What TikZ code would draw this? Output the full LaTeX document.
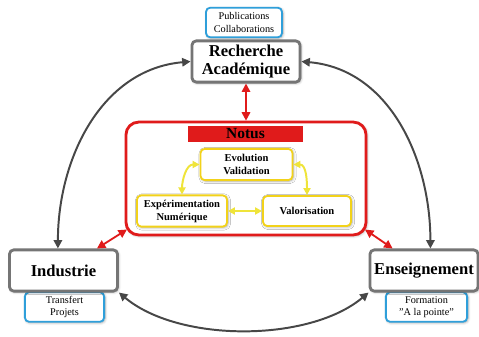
\documentclass[tikz,border=0pt]{standalone}
\usepackage{fontspec}
\setmainfont{Liberation Serif}
\usetikzlibrary{arrows.meta,shadows.blur}

\definecolor{polegray}{HTML}{757575}
\definecolor{arcgray}{HTML}{474747}
\definecolor{pubblue}{HTML}{2F9FDA}
\definecolor{notusred}{HTML}{E01B1B}
\definecolor{etapeyellow}{HTML}{F2D21A}
\definecolor{arrowyellow}{HTML}{EFE43A}

\begin{document}
\begin{tikzpicture}[x=0.025cm, y=0.025cm,
    >={Triangle[length=6pt,width=6pt]},
    ombre/.style={blur shadow={shadow xshift=0.7pt, shadow yshift=-0.7pt, shadow blur steps=6, shadow opacity=35}},
    pole/.style={draw=polegray, line width=2pt, rounded corners=3pt, fill=white, ombre,
        minimum width=2.7cm, minimum height=1.03cm, align=center, inner sep=2pt,
        font=\fontsize{11.8}{12.8}\selectfont\bfseries},
    pub/.style={draw=pubblue, line width=1.3pt, rounded corners=3pt, fill=white, ombre,
        minimum width=1.98cm, minimum height=0.74cm, align=center, inner sep=1pt,
        font=\fontsize{7.3}{8.8}\selectfont},
    notusbox/.style={draw=notusred, line width=2pt, rounded corners=9pt, fill=white, ombre,
        minimum width=6cm, minimum height=2.82cm},
    banner/.style={fill=notusred, minimum width=2.875cm, minimum height=0.4cm, inner sep=0pt,
        font=\fontsize{11}{12}\selectfont\bfseries},
    etape/.style={draw=etapeyellow, line width=1.3pt, rounded corners=3pt, fill=white, ombre,
        minimum width=2.3cm, minimum height=0.78cm, align=center, inner sep=1pt,
        font=\fontsize{7.5}{9.2}\selectfont\bfseries},
    garrow/.style={<->, draw=arcgray, line width=1.4pt},
    rarrow/.style={<->, draw=notusred, line width=1.3pt},
    yarrow/.style={<->, draw=arrowyellow, line width=1.4pt, >={Triangle[length=5pt,width=5pt]}}]

    \useasboundingbox (0,0) rectangle (479,-336);

    % === haut: Recherche ===
    \node[pub]  (pubs) at (244,-22.5) [minimum width=1.9cm] {Publications\\Collaborations};
    \node[pole] (rech) at (246,-61.5) {Recherche\\Académique};

    % === centre: Notus ===
    \node[notusbox] (notus) at (246,-178.5) {};
    \node[banner]   (titre) at (245.5,-134) {Notus};
    \node[etape] (evo)  at (246.5,-164.5) {Evolution\\Validation};
    \node[etape] (exp)  at (182,-211) [minimum width=2.25cm] {Expérimentation\\Numérique};
    \node[etape] (valo) at (307,-211) [minimum width=2.2cm, minimum height=0.75cm] {Valorisation};

    % === bas: Industrie, Enseignement ===
    \node[pub]  (transf) at (64.5,-307) {Transfert\\Projets};
    \node[pole] (ind)    at (63.5,-270.5) {Industrie};
    \node[pub]  (form)   at (426.5,-307) [minimum width=2.03cm] {Formation\\"A la pointe"};
    \node[pole] (ens)    at (424,-270.5) {Enseignement};

    % === liens Notus ===
    \draw[yarrow] (evo.west) to[out=180,in=90] (exp.north);
    \draw[yarrow] (evo.east) to[out=0,in=90] (valo.north);
    \draw[yarrow] (exp.east) -- (valo.west);

    % rouge
    \draw[rarrow] (rech.south) -- (notus.north);
    \draw[rarrow] ([xshift=-0.55cm]ind.north east) -- ([shift={(0.06cm,0.17cm)}]notus.south west);
    \draw[rarrow] ([xshift=0.6cm]ens.north west) -- ([shift={(-0.06cm,0.17cm)}]notus.south east);

    % gris
    \draw[garrow] (rech.west) to[out=185,in=90] ([xshift=-0.14cm]ind.north);
    \draw[garrow] (rech.east) to[out=-5,in=90] ([xshift=0.16cm]ens.north);
    \draw[garrow] (ind.south east) to[out=-40,in=-140,looseness=0.8] (ens.south west);

\end{tikzpicture}
\end{document}
